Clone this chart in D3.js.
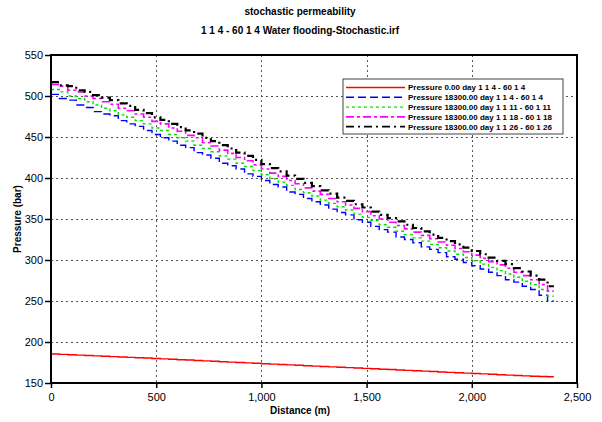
<!DOCTYPE html>
<html>
<head>
<meta charset="utf-8">
<script src="https://cdn.jsdelivr.net/npm/d3@7"></script>
<style>
  html, body { margin: 0; padding: 0; background: #fff; }
  svg { display: block; font-family: "Liberation Sans", Arial, sans-serif; }
</style>
</head>
<body>
<svg id="chart" width="602" height="422"></svg>
<script>
// Titles
const titleLines = ["stochastic permeability", "1 1 4 - 60 1 4 Water flooding-Stochastic.irf"];
const xTitle = "Distance (m)";
const yTitle = "Pressure (bar)";

// Axis ticks
const xTicks = [0, 500, 1000, 1500, 2000, 2500];
const yTicks = [150, 200, 250, 300, 350, 400, 450, 500, 550];

// Grid block start positions along the line (m) and far edge of the last block
const cellStart = [0, 40, 80, 120, 160, 200, 240, 280, 320, 360,
  400, 440, 480, 520, 560, 600, 640, 680, 720, 760,
  800, 840, 880, 920, 960, 1000, 1040, 1080, 1120, 1160,
  1200, 1240, 1280, 1320, 1360, 1400, 1440, 1480, 1520, 1560,
  1600, 1640, 1680, 1720, 1760, 1800, 1840, 1880, 1920, 1960,
  2000, 2040, 2080, 2120, 2160, 2200, 2240, 2280, 2320, 2360];
const lastEdge = 2390;

// Series names
const seriesNames = [
  "Pressure 0.00 day 1 1 4 - 60 1 4",
  "Pressure 18300.00 day 1 1 4 - 60 1 4",
  "Pressure 18300.00 day 1 1 11 - 60 1 11",
  "Pressure 18300.00 day 1 1 18 - 60 1 18",
  "Pressure 18300.00 day 1 1 26 - 60 1 26"
];

// Block pressures (bar)
const pInitial = [185.3, 184.9, 184.4, 184.0, 183.5, 183.1, 182.6, 182.2, 181.7, 181.3,
  180.8, 180.4, 179.9, 179.4, 178.9, 178.4, 178.0, 177.5, 177.0, 176.5,
  176.0, 175.5, 175.0, 174.5, 174.0, 173.5, 173.0, 172.5, 172.1, 171.6,
  171.1, 170.6, 170.2, 169.7, 169.2, 168.7, 168.3, 167.8, 167.3, 166.8,
  166.4, 165.9, 165.4, 164.9, 164.5, 164.0, 163.5, 163.0, 162.5, 162.0,
  161.6, 161.1, 160.6, 160.1, 159.6, 159.2, 158.7, 158.2, 157.9, 157.7];
const pLayer4 = [502, 497, 495, 489, 486, 481, 478, 476, 470, 466,
  463, 458, 453, 449, 445, 440, 437, 431, 428, 424,
  418, 415, 411, 405, 402, 397, 392, 389, 383, 380,
  375, 371, 367, 362, 358, 355, 349, 346, 341, 337,
  334, 328, 325, 321, 316, 313, 309, 304, 301, 297,
  293, 289, 285, 281, 276, 273, 268, 264, 257, 250];
const pLayer11 = [508, 505, 500, 497, 493, 489, 485, 482, 477, 474,
  470, 466, 461, 458, 453, 449, 445, 440, 436, 432,
  427, 423, 418, 414, 409, 404, 399, 395, 391, 386,
  382, 378, 373, 369, 365, 361, 356, 352, 348, 343,
  340, 335, 331, 327, 323, 319, 315, 311, 307, 303,
  299, 295, 291, 287, 283, 279, 274, 270, 264, 256];
const pLayer18 = [514, 512, 507, 505, 500, 497, 493, 490, 485, 482,
  478, 474, 469, 466, 461, 457, 452, 449, 443, 439,
  434, 430, 425, 421, 416, 411, 406, 402, 397, 393,
  388, 384, 380, 375, 371, 367, 363, 359, 354, 350,
  346, 342, 338, 334, 330, 326, 322, 318, 314, 310,
  306, 302, 298, 294, 290, 285, 281, 276, 270, 262];
const pLayer26 = [517, 513, 512, 507, 505, 501, 498, 495, 491, 488,
  483, 479, 474, 471, 466, 462, 458, 454, 449, 445,
  440, 436, 431, 427, 422, 417, 412, 408, 403, 399,
  394, 390, 385, 381, 376, 372, 368, 364, 359, 355,
  351, 347, 343, 339, 335, 331, 327, 323, 319, 315,
  311, 307, 303, 299, 295, 290, 286, 281, 276, 268];

const seriesValues = [pInitial, pLayer4, pLayer11, pLayer18, pLayer26];
const seriesColors = ["#ff0000", "#0000ff", "#00e000", "#ff00ff", "#000000"];
const seriesDash = ["none", "8,4", "3,3", "8,3,3,3", "8,4,2,4"];
const seriesWidth = [1.4, 1.4, 1.4, 1.6, 2.2];

const svg = d3.select("#chart");
const plot = { left: 51, right: 577, top: 55, bottom: 383 };

const x = d3.scaleLinear().domain([0, 2500]).range([plot.left, plot.right]);
const y = d3.scaleLinear().domain([150, 550]).range([plot.bottom, plot.top]);

// Dotted grid
const grid = svg.append("g").attr("stroke", "#555").attr("stroke-width", 1)
  .attr("stroke-dasharray", "2,3").attr("shape-rendering", "crispEdges");
grid.selectAll("line.gx").data(xTicks.slice(1, -1)).join("line")
  .attr("x1", d => Math.round(x(d)) + 0.5).attr("x2", d => Math.round(x(d)) + 0.5)
  .attr("y1", plot.top).attr("y2", plot.bottom);
grid.selectAll("line.gy").data(yTicks.slice(1, -1)).join("line")
  .attr("x1", plot.left).attr("x2", plot.right)
  .attr("y1", d => Math.round(y(d)) + 0.5).attr("y2", d => Math.round(y(d)) + 0.5);

// Series lines drawn as block steps
const line = d3.line()
  .x(d => x(d[0])).y(d => y(d[1]))
  .curve(d3.curveStepAfter);

seriesValues.forEach((vals, i) => {
  const pts = cellStart.map((c, j) => [c, vals[j]]);
  pts.push([lastEdge, vals[vals.length - 1]]);
  svg.append("path")
    .datum(pts)
    .attr("fill", "none")
    .attr("stroke", seriesColors[i])
    .attr("stroke-width", seriesWidth[i])
    .attr("stroke-dasharray", seriesDash[i] === "none" ? null : seriesDash[i])
    .attr("d", line);
});

// Axes
const xAxis = d3.axisBottom(x).tickValues(xTicks).tickFormat(d3.format(",")).tickSize(5).tickSizeOuter(0);
const yAxis = d3.axisLeft(y).tickValues(yTicks).tickSize(6).tickSizeOuter(0);

const gx = svg.append("g").attr("transform", `translate(0,${plot.bottom})`).call(xAxis);
const gy = svg.append("g").attr("transform", `translate(${plot.left},0)`).call(yAxis);
[gx, gy].forEach(g => {
  g.select(".domain").remove();
  g.selectAll(".tick line").attr("stroke", "#000").attr("stroke-width", 1.5);
  g.selectAll(".tick text").attr("fill", "#000").attr("font-size", 11)
    .attr("font-family", "Liberation Sans, Arial, sans-serif");
});
gx.selectAll(".tick text").attr("dy", "0.95em");
gy.selectAll(".tick text").attr("x", -8);

// Frame around plot area
svg.append("rect")
  .attr("x", plot.left).attr("y", plot.top)
  .attr("width", plot.right - plot.left).attr("height", plot.bottom - plot.top)
  .attr("fill", "none").attr("stroke", "#000").attr("stroke-width", 2);

// Titles
svg.append("g").selectAll("text").data(titleLines).join("text")
  .attr("x", 300).attr("y", (d, i) => 15 + i * 19)
  .attr("text-anchor", "middle").attr("font-size", 10).attr("font-weight", "bold")
  .text(d => d);

svg.append("text").attr("x", 300).attr("y", 414)
  .attr("text-anchor", "middle").attr("font-size", 10).attr("font-weight", "bold")
  .text(xTitle);

svg.append("text")
  .attr("transform", `translate(21,${(plot.top + plot.bottom) / 2}) rotate(-90)`)
  .attr("text-anchor", "middle").attr("font-size", 10).attr("font-weight", "bold")
  .text(yTitle);

// Legend
const legendTextWidth = 144;
const legend = svg.append("g").attr("transform", "translate(343,79)");
legend.append("rect").attr("width", 220).attr("height", 55)
  .attr("fill", "#fff").attr("stroke", "#444").attr("stroke-width", 1);
const rows = legend.selectAll("g.row").data(seriesNames).join("g")
  .attr("transform", (d, i) => `translate(0,${8.5 + i * 9.8})`);
rows.append("line").attr("x1", 3).attr("x2", 62).attr("y1", 0).attr("y2", 0)
  .attr("stroke", (d, i) => seriesColors[i])
  .attr("stroke-width", (d, i) => Math.min(seriesWidth[i], 1.8))
  .attr("stroke-dasharray", (d, i) => seriesDash[i] === "none" ? null : seriesDash[i]);
const labels = rows.append("text").attr("x", 65).attr("y", 0).attr("dy", "0.35em")
  .attr("font-size", 10).attr("font-weight", "bold").text(d => d);
// Size the legend font so the longest entry fits the box
const widest = d3.max(labels.nodes(), n => n.getComputedTextLength());
labels.attr("font-size", 10 * legendTextWidth / widest);
</script>
</body>
</html>
